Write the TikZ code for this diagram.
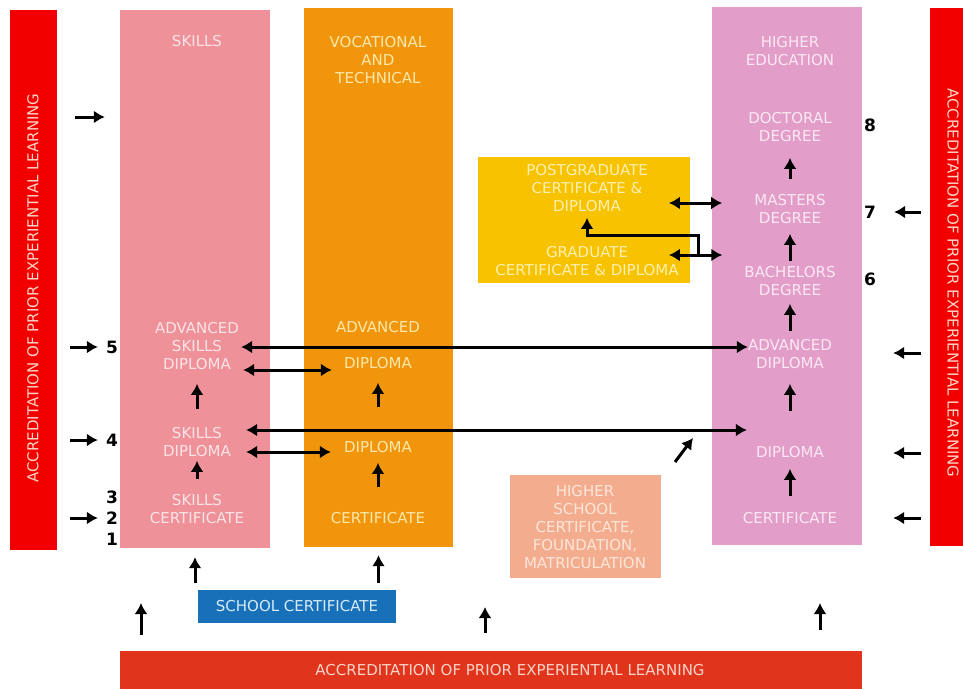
\documentclass[tikz,border=0pt]{standalone}
\usepackage{fontspec}
\setmainfont{DejaVu Sans}
\usetikzlibrary{arrows.meta}

\definecolor{aplred}{RGB}{242,0,0}
\definecolor{sklpink}{RGB}{238,145,153}
\definecolor{vocorange}{RGB}{241,150,12}
\definecolor{hepink}{RGB}{226,158,200}
\definecolor{pgyellow}{RGB}{247,194,0}
\definecolor{hscpeach}{RGB}{243,173,142}
\definecolor{scblue}{RGB}{24,112,184}
\definecolor{apelred}{RGB}{224,52,28}
\definecolor{skltext}{RGB}{252,228,230}
\definecolor{voctext}{RGB}{252,232,170}
\definecolor{hetext}{RGB}{252,232,244}
\definecolor{pgtext}{RGB}{255,240,175}
\definecolor{hsctext}{RGB}{252,230,218}
\definecolor{sctext}{RGB}{215,235,250}
\definecolor{redtext}{RGB}{252,212,200}

\begin{document}
\begin{tikzpicture}[x=1pt,y=-1pt,
    lbl/.style={inner sep=0pt, align=center, font=\fontsize{15}{18}\selectfont},
    num/.style={inner sep=0pt, font=\fontsize{17}{18}\selectfont\bfseries},
    block/.style={draw=none, inner sep=0pt, minimum width=#1},
    arr/.style={line width=3pt, -{Latex[length=11pt,width=13pt]}},
    darr/.style={line width=3pt, {Latex[length=11pt,width=13pt]}-{Latex[length=11pt,width=13pt]}}]
    \useasboundingbox (0,0) rectangle (963,688);

    % bars and columns
    \node[block=47pt, minimum height=540pt, fill=aplred] (aplL) at (33.5,280) {};
    \node[block=34pt, minimum height=538pt, fill=aplred] (aplR) at (947,277) {};
    \node[block=150pt, minimum height=538pt, fill=sklpink] (skills) at (195,279) {};
    \node[block=149pt, minimum height=539pt, fill=vocorange] (voc) at (378.5,277.5) {};
    \node[block=150pt, minimum height=538pt, fill=hepink] (he) at (787,276) {};
    \node[block=212pt, minimum height=126pt, fill=pgyellow] (pgbox) at (584,220) {};
    \node[block=151pt, minimum height=103pt, fill=hscpeach] (hsc) at (585.5,526.5) {};
    \node[block=198pt, minimum height=33pt, fill=scblue, text=sctext,
          font=\fontsize{15}{18}\selectfont] (school) at (297,606.5) {SCHOOL CERTIFICATE};
    \node[block=742pt, minimum height=38pt, fill=apelred] (apel) at (491,670) {};

    \node[lbl, text=redtext, rotate=90] (aplLtxt) at (33,288) {ACCREDITATION OF PRIOR EXPERIENTIAL LEARNING};
    \node[lbl, text=redtext, rotate=-90] (aplRtxt) at (953,283) {ACCREDITATION OF PRIOR EXPERIENTIAL LEARNING};
    \node[lbl, text=redtext] (apeltxt) at (510,670) {ACCREDITATION OF PRIOR EXPERIENTIAL LEARNING};

    % skills
    \node[lbl, text=skltext] (skltitle) at (197,41) {SKILLS};
    \node[lbl, text=skltext] (skladv) at (197,346) {ADVANCED\\SKILLS\\DIPLOMA};
    \node[lbl, text=skltext] (skldip) at (197,442) {SKILLS\\DIPLOMA};
    \node[lbl, text=skltext] (sklcert) at (197,509) {SKILLS\\CERTIFICATE};

    % vocational
    \node[lbl, text=voctext] (voctitle) at (378,60) {VOCATIONAL\\AND\\TECHNICAL};
    \node[lbl, text=voctext] (vocadv) at (378,327) {ADVANCED};
    \node[lbl, text=voctext] (vocdipa) at (378,363) {DIPLOMA};
    \node[lbl, text=voctext] (vocdip) at (378,447) {DIPLOMA};
    \node[lbl, text=voctext] (voccert) at (378,518) {CERTIFICATE};

    % higher education
    \node[lbl, text=hetext] (hetitle) at (790,51) {HIGHER\\EDUCATION};
    \node[lbl, text=hetext] (hedoc) at (790,127) {DOCTORAL\\DEGREE};
    \node[lbl, text=hetext] (hemas) at (790,209) {MASTERS\\DEGREE};
    \node[lbl, text=hetext] (hebach) at (790,281) {BACHELORS\\DEGREE};
    \node[lbl, text=hetext] (headv) at (790,354) {ADVANCED\\DIPLOMA};
    \node[lbl, text=hetext] (hedip) at (790,452) {DIPLOMA};
    \node[lbl, text=hetext] (hecert) at (790,518) {CERTIFICATE};

    % postgraduate and higher school
    \node[lbl, text=pgtext] (pgd) at (587,188) {POSTGRADUATE\\CERTIFICATE \&\\DIPLOMA};
    \node[lbl, text=pgtext] (gd) at (587,261) {GRADUATE\\CERTIFICATE \& DIPLOMA};
    \node[lbl, text=hsctext] (hsctxt) at (585,527.5) {HIGHER\\SCHOOL\\CERTIFICATE,\\FOUNDATION,\\MATRICULATION};

    % levels
    \foreach \n/\y in {5/347, 4/440, 3/497, 2/518, 1/539}
        \node[num] (n\n) at (112,\y) {\n};
    \foreach \n/\y in {8/125, 7/212, 6/279}
        \node[num] (n\n) at (870,\y) {\n};

    % progression inside the columns
    \draw[arr, shorten <=15pt, shorten >=4pt] (sklcert) -- (skldip);
    \draw[arr, shorten <=18pt, shorten >=14pt] (skldip) -- (skladv);
    \draw[arr, shorten <=25pt, shorten >=10pt] (voccert) -- (vocdip);
    \draw[arr, shorten <=34pt, shorten >=14pt] (vocdip) -- (vocdipa);
    \draw[arr, shorten <=16pt, shorten >=11pt] (hecert) -- (hedip);
    \draw[arr, shorten <=35pt, shorten >=15pt] (hedip) -- (headv);
    \draw[arr, shorten <=8pt, shorten >=8pt] (headv) -- (hebach);
    \draw[arr, shorten <=5pt, shorten >=10pt] (hebach) -- (hemas);
    \draw[arr, shorten <=15pt, shorten >=16pt] (hemas) -- (hedoc);

    % links across
    \coordinate (row1) at (0,347);
    \coordinate (row2) at (0,370);
    \coordinate (row3) at (0,430);
    \coordinate (row4) at (0,452);
    \draw[darr, shorten <=2pt] (skladv.east |- row1) -- (headv.west |- row1);
    \draw[darr, shorten <=4pt, shorten >=12pt] (skladv.east |- row2) -- (vocdipa.west |- row2);
    \draw[darr, shorten <=7pt, shorten >=1pt] (skladv.east |- row3) -- (headv.west |- row3);
    \draw[darr, shorten <=7pt, shorten >=13pt] (skladv.east |- row4) -- (vocdip.west |- row4);

    \coordinate (mrow1) at (0,203);
    \coordinate (mrow2) at (0,255);
    \draw[darr, shorten <=21pt, shorten >=32pt] (pgd.east |- mrow1) -- (hemas.west |- mrow1);
    \draw[darr, shorten <=21pt, shorten >=22pt] (pgd.east |- mrow2) -- (hebach.west |- mrow2);
    \coordinate (fork) at (698,255);
    \draw[arr, shorten >=6pt] (fork) -- ++(0,-20) -| (pgd.south);

    \coordinate (diag) at (675,462);
    \draw[arr] (diag) -- ++(18,-24);

    % entry by accreditation
    \coordinate (in0) at (75,117);
    \draw[arr, shorten >=15pt] (in0) -- (in0 -| skills.west);
    \foreach \n/\y in {5/347, 4/440, 2/518} {
        \coordinate (in\n) at (70,\y);
        \draw[arr, shorten >=8pt] (in\n) -- (n\n);
    }
    \coordinate (out7) at (921,212);
    \draw[arr, shorten >=18pt] (out7) -- (n7);
    \foreach \y [count=\i] in {353, 453, 518} {
        \coordinate (out\i) at (921,\y);
        \draw[arr, shorten >=31pt] (out\i) -- (out\i -| he.east);
    }
    \foreach \x/\y/\s [count=\i] in {141/603/16, 485/607/18, 820/603/21} {
        \coordinate (up\i) at (\x,\y);
        \draw[arr, shorten <=\s pt] (apel.north -| up\i) -- (up\i);
    }

    % school certificate
    \draw[arr, shorten <=7pt, shorten >=9pt] (school.north -| skills.south) -- (skills.south);
    \draw[arr, shorten <=7pt, shorten >=8pt] (school.north -| voc.south) -- (voc.south);
\end{tikzpicture}
\end{document}
